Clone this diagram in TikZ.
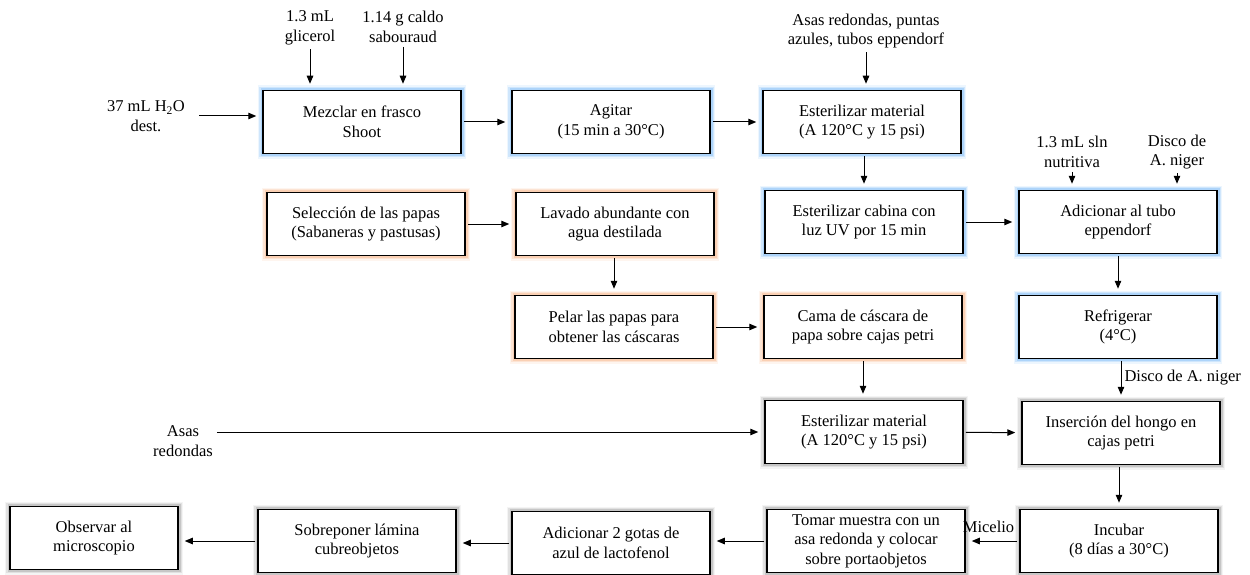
\documentclass[tikz,border=0pt]{standalone}
\usepackage{fontspec}
\setmainfont{Liberation Serif}
\usetikzlibrary{arrows.meta}
\definecolor{glowblue}{RGB}{140,195,250}
\definecolor{gloworange}{RGB}{250,190,150}
\definecolor{glowgray}{RGB}{150,150,150}
\tikzset{
  txt/.style={font=\fontsize{16.5}{19.5}\selectfont, align=center, inner sep=2pt},
  box/.style={txt, draw=black, line width=1.5pt, fill=white,
    minimum width=198pt, minimum height=63pt},
  glow/.style={
    preaction={draw=#1, line width=10pt, opacity=0.15},
    preaction={draw=#1, line width=7.5pt, opacity=0.3},
    preaction={draw=#1, line width=5pt, opacity=0.5}},
  bluebox/.style={box, glow=glowblue},
  orangebox/.style={box, glow=gloworange},
  graybox/.style={box,
    preaction={draw=glowgray, line width=10pt, opacity=0.1},
    preaction={draw=glowgray, line width=7.5pt, opacity=0.2},
    preaction={draw=glowgray, line width=5pt, opacity=0.35}},
  arr/.style={-{Triangle[length=8pt,width=6.5pt]}, line width=1pt,
    shorten <=2pt, shorten >=6pt},
}
\begin{document}
\begin{tikzpicture}[x=1pt, y=-1pt]
\useasboundingbox[fill=white] (0,0) rectangle (1250,575);

% preparation of the broth
\node[bluebox] (mez) at (362,122) {Mezclar en frasco\\Shoot};
\node[bluebox] (agi) at (611,122) {Agitar\\(15 min a 30°C)};
\node[bluebox] (est1) at (862,122) {Esterilizar material\\(A 120°C y 15 psi)};
\node[bluebox] (cab) at (864,222) {Esterilizar cabina con\\luz UV por 15 min};
\node[bluebox] (adi) at (1118,222) {Adicionar al tubo\\eppendorf};
\node[bluebox] (ref) at (1118,327) {Refrigerar\\(4°C)};

% potato peel substrate
\node[orangebox] (sel) at (366,224) {Selección de las papas\\(Sabaneras y pastusas)};
\node[orangebox] (lav) at (615,224) {Lavado abundante con\\agua destilada};
\node[orangebox] (pel) at (614,327) {Pelar las papas para\\obtener las cáscaras};
\node[orangebox] (cam) at (863,327) {Cama de cáscara de\\papa sobre cajas petri};

% inoculation and observation
\node[graybox] (est2) at (864,432) {Esterilizar material\\(A 120°C y 15 psi)};
\node[graybox] (ins) at (1121,433) {Inserción del hongo en\\cajas petri};
\node[graybox] (inc) at (1119,541) {Incubar\\(8 días a 30°C)};
\node[graybox] (tom) at (866,541) {Tomar muestra con un\\asa redonda y colocar\\sobre portaobjetos};
\node[graybox] (adi2) at (611,543) {Adicionar 2 gotas de\\azul de lactofenol};
\node[graybox] (sob) at (357,541) {Sobreponer lámina\\cubreobjetos};
\node[graybox, minimum width=168pt] (obs) at (94,538) {Observar al\\microscopio};

% inputs
\node[txt] (gli) at (310,28) {1.3 mL\\glicerol};
\node[txt] (cal) at (403,27) {1.14 g caldo\\sabouraud};
\node[txt] (h2o) at (146,116) {37 mL H\textsubscript{2}O\\dest.};
\node[txt] (mat) at (866,31) {Asas redondas, puntas\\azules, tubos eppendorf};
\node[txt] (sln) at (1072,152) {1.3 mL sln\\nutritiva};
\node[txt] (dis) at (1177,152) {Disco de\\A. niger};
\node[txt] (asa) at (183,441) {Asas\\redondas};

% connectors
\draw[arr] (gli.south) -- (gli.south |- mez.north);
\draw[arr] (cal.south) -- (cal.south |- mez.north);
\draw[arr, shorten <=12pt] (h2o.east) -- (h2o.east -| mez.west);
\draw[arr] (mez) -- (agi);
\draw[arr] (agi) -- (est1);
\draw[arr] (mat.south) -- (mat.south |- est1.north);
\draw[arr] (cab.north |- est1.south) -- (cab.north);
\draw[arr] (cab) -- (adi);
\draw[arr] (sln.south) -- (sln.south |- adi.north);
\draw[arr] (dis.south) -- (dis.south |- adi.north);
\draw[arr] (adi) -- (ref);
\draw[arr] (sel) -- (lav);
\draw[arr] (lav.south -| pel.north) -- (pel.north);
\draw[arr] (pel) -- (cam);
\draw[arr] (cam) -- (cam |- est2.north);
\draw[arr] (ref.south -| ins.north) -- (ins.north)
  node[txt, pos=0.45, right=1pt] {Disco de A. niger};
\draw[arr] (asa.east |- est2.west) -- (est2.west);
\draw[arr] (est2) -- (ins);
\draw[arr] (ins.south -| inc.north) -- (inc.north);
\draw[arr] (inc) -- (tom) node[txt, midway, above=6pt, xshift=-4pt] {Micelio};
\draw[arr] (tom) -- (tom -| adi2.east);
\draw[arr] (adi2.west) -- (adi2.west -| sob.east);
\draw[arr] (sob.west) -- (sob.west -| obs.east);
\end{tikzpicture}
\end{document}
